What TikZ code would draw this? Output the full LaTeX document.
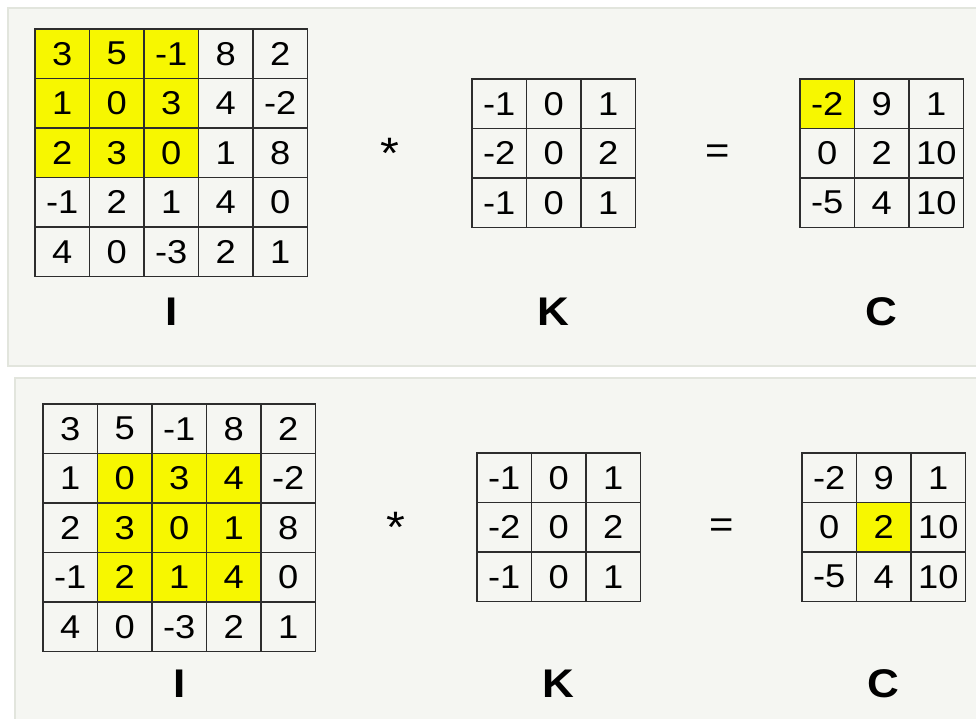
\documentclass[tikz,border=0pt]{standalone}
\usepackage{fontspec}
\setmainfont{Liberation Sans}[FakeStretch=1.1]
\usetikzlibrary{calc,positioning}
\definecolor{panelfill}{RGB}{245,246,242}
\definecolor{panelline}{RGB}{226,229,221}
\definecolor{hlyellow}{RGB}{247,247,0}
\definecolor{gridline}{RGB}{45,45,45}
\newcommand\cw{54.5}
\newcommand\ch{49.5}
% #1 name, #2 #3 top left corner, #4 rows, #5-#8 highlighted rows and columns
\newcommand\cellgrid[8]{%
  \foreach \row [count=\i] in {#4} {
    \foreach \v [count=\j] in \row {
      \pgfmathtruncatemacro\hit{(\i>#5-1)&&(\i<#6+1)&&(\j>#7-1)&&(\j<#8+1)}
      \node[cell, hit\hit] (#1-\i-\j) at ({#2+\cw*(\j-0.5)},{#3+\ch*(\i-0.5)}) {\v};
    }
  }
}
\tikzset{
  cell/.style={draw=gridline, line width=1.2pt, minimum width=\cw pt, minimum height=\ch pt,
    inner sep=0pt, font=\fontsize{33}{36}\selectfont},
  hit0/.style={},
  hit1/.style={fill=hlyellow},
  op/.style={anchor=base, inner sep=0pt, font=\fontsize{38}{40}\selectfont},
  mlabel/.style={inner sep=0pt, font=\fontsize{40}{42}\selectfont\bfseries}
}
\begin{document}
\begin{tikzpicture}[x=1pt,y=-1pt]
\useasboundingbox (0,0) rectangle (976,719);
\clip (0,0) rectangle (976,719);
% panels
\filldraw[fill=panelfill, draw=panelline, line width=1.5pt] (8,8) rectangle (990,366);
\filldraw[fill=panelfill, draw=panelline, line width=1.5pt] (15,378) rectangle (990,730);

% first step
\cellgrid{Ia}{35}{29}{{3,5,-1,8,2},{1,0,3,4,-2},{2,3,0,1,8},{-1,2,1,4,0},{4,0,-3,2,1}}{1}{3}{1}{3}
\cellgrid{Ka}{472}{79}{{-1,0,1},{-2,0,2},{-1,0,1}}{0}{0}{0}{0}
\cellgrid{Ca}{800}{79}{{-2,9,1},{0,2,10},{-5,4,10}}{1}{1}{1}{1}
\node[op, yshift=-4pt, font=\fontsize{44}{46}\selectfont] (timesa) at ($(Ia-2-5.east |- Ka-2-1.base)!.5!(Ka-2-1.base west)$) {*};
\node[op, yshift=1.5pt] (eqa) at ($(Ka-2-3.base east)!.5!(Ca-2-1.base west)$) {=};
\coordinate (laba) at (0,312);
\node[mlabel] (Ilaba) at (Ia-5-3 |- laba) {I};
\node[mlabel] (Klaba) at (Ka-3-2 |- laba) {K};
\node[mlabel] (Claba) at (Ca-3-2 |- laba) {C};

% second step
\cellgrid{Ib}{43}{404}{{3,5,-1,8,2},{1,0,3,4,-2},{2,3,0,1,8},{-1,2,1,4,0},{4,0,-3,2,1}}{2}{4}{2}{4}
\cellgrid{Kb}{477}{453}{{-1,0,1},{-2,0,2},{-1,0,1}}{0}{0}{0}{0}
\cellgrid{Cb}{802}{453}{{-2,9,1},{0,2,10},{-5,4,10}}{2}{2}{2}{2}
\node[op, yshift=-4pt, font=\fontsize{44}{46}\selectfont] (timesb) at ($(Ib-2-5.east |- Kb-2-1.base)!.5!(Kb-2-1.base west)$) {*};
\node[op, yshift=1.5pt] (eqb) at ($(Kb-2-3.base east)!.5!(Cb-2-1.base west)$) {=};
\coordinate (labb) at (0,684);
\node[mlabel] (Ilabb) at (Ib-5-3 |- labb) {I};
\node[mlabel] (Klabb) at (Kb-3-2 |- labb) {K};
\node[mlabel] (Clabb) at (Cb-3-2 |- labb) {C};
\end{tikzpicture}
\end{document}
